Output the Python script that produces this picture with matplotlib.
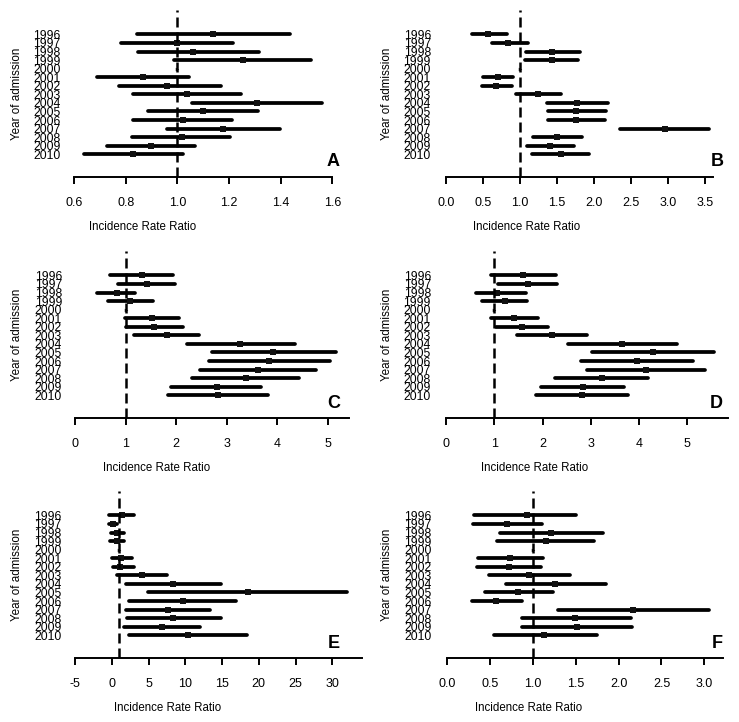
import matplotlib
matplotlib.use("Agg")
import matplotlib.pyplot as plt
import numpy as np

plt.rcParams['font.family'] = ['Liberation Sans', 'DejaVu Sans']

years = ["1996", "1997", "1998", "1999", "2000", "2001", "2002", "2003",
         "2004", "2005", "2006", "2007", "2008", "2009", "2010"]

# Panel A
a_est = [1.14, 1.00, 1.06, 1.255, 1.0, 0.868, 0.96, 1.036, 1.31, 1.10, 1.023, 1.178, 1.017, 0.90, 0.83]
a_lo = [0.843, 0.782, 0.849, 0.987, 1.0, 0.688, 0.775, 0.830, 1.055, 0.885, 0.830, 0.959, 0.823, 0.729, 0.639]
a_hi = [1.436, 1.217, 1.317, 1.516, 1.0, 1.045, 1.168, 1.245, 1.559, 1.314, 1.210, 1.397, 1.204, 1.070, 1.023]
a_ticks = [0.6, 0.8, 1.0, 1.2, 1.4, 1.6]
a_ticklabels = ["0.6", "0.8", "1.0", "1.2", "1.4", "1.6"]

# Panel B
b_est = [0.572, 0.842, 1.43, 1.428, 1.0, 0.70, 0.68, 1.248, 1.774, 1.76, 1.76, 2.96, 1.496, 1.405, 1.56]
b_lo = [0.347, 0.617, 1.081, 1.072, 1.0, 0.505, 0.482, 0.941, 1.369, 1.383, 1.383, 2.351, 1.180, 1.099, 1.162]
b_hi = [0.820, 1.104, 1.811, 1.788, 1.0, 0.910, 0.887, 1.550, 2.185, 2.162, 2.149, 3.559, 1.833, 1.730, 1.932]
b_ticks = [0.0, 0.5, 1.0, 1.5, 2.0, 2.5, 3.0, 3.5]
b_ticklabels = ["0.0", "0.5", "1.0", "1.5", "2.0", "2.5", "3.0", "3.5"]

# Panel C
c_est = [1.314, 1.413, 0.82, 1.083, 1.0, 1.513, 1.559, 1.81, 3.263, 3.92, 3.84, 3.63, 3.38, 2.80, 2.82]
c_lo = [0.687, 0.852, 0.436, 0.640, 1.0, 0.984, 1.000, 1.162, 2.21, 2.70, 2.64, 2.48, 2.31, 1.896, 1.83]
c_hi = [1.929, 1.975, 1.182, 1.532, 1.0, 2.054, 2.127, 2.450, 4.35, 5.16, 5.05, 4.77, 4.44, 3.69, 3.824]
c_ticks = [0, 1, 2, 3, 4, 5]
c_ticklabels = ["0", "1", "2", "3", "4", "5"]

# Panel D
d_est = [1.602, 1.706, 1.05, 1.222, 1.0, 1.409, 1.568, 2.189, 3.653, 4.282, 3.95, 4.144, 3.239, 2.831, 2.81]
d_lo = [0.925, 1.084, 0.622, 0.739, 1.0, 0.925, 1.036, 1.478, 2.521, 3.018, 2.797, 2.914, 2.265, 1.968, 1.858]
d_hi = [2.279, 2.307, 1.650, 1.685, 1.0, 1.913, 2.120, 2.928, 4.779, 5.559, 5.124, 5.366, 4.192, 3.688, 3.764]
d_ticks = [0, 1, 2, 3, 4, 5]
d_ticklabels = ["0", "1", "2", "3", "4", "5"]

# Panel E
e_est = [1.35, 0.2, 0.75, 0.7, 1.0, 1.2, 1.1, 4.07, 8.28, 18.57, 9.64, 7.69, 8.37, 6.79, 10.32]
e_lo = [-0.33, -0.33, -0.15, -0.24, 1.0, -0.01, 0.12, 0.76, 1.94, 4.97, 2.39, 1.94, 2.12, 1.66, 2.39]
e_hi = [3.02, 0.76, 1.66, 1.66, 1.0, 2.80, 3.02, 7.47, 14.8, 31.94, 16.9, 13.36, 14.8, 12.0, 18.35]
e_ticks = [-5, 0, 5, 10, 15, 20, 25, 30]
e_ticklabels = ["-5", "0", "5", "10", "15", "20", "25", "30"]

# Panel F
f_est = [0.931, 0.698, 1.215, 1.156, 1.0, 0.737, 0.726, 0.962, 1.261, 0.834, 0.574, 2.173, 1.494, 1.513, 1.137]
f_lo = [0.322, 0.310, 0.621, 0.582, 1.0, 0.361, 0.357, 0.497, 0.691, 0.446, 0.291, 1.300, 0.873, 0.881, 0.551]
f_hi = [1.506, 1.106, 1.824, 1.719, 1.0, 1.125, 1.094, 1.436, 1.855, 1.242, 0.873, 3.058, 2.146, 2.154, 1.746]
f_ticks = [0.0, 0.5, 1.0, 1.5, 2.0, 2.5, 3.0]
f_ticklabels = ["0.0", "0.5", "1.0", "1.5", "2.0", "2.5", "3.0"]

panel_letters = ["A", "B", "C", "D", "E", "F"]

W, H = 739, 722
fig = plt.figure(figsize=(W / 100, H / 100), dpi=100)

# layout in pixels: (left, right, top, xlim)
layout = [
    (74.0, 332.3, 10, (0.6, 1.6)),
    (446.0, 713.3, 10, (0.0, 3.612)),
    (75.3, 349.3, 251, (0.0, 5.43)),
    (446.0, 728.3, 251, (0.0, 5.85)),
    (75.0, 361.7, 491, (-5.0, 34.0)),
    (446.7, 723.3, 491, (0.0, 3.22)),
]
xlabel_cx = [143, 527, 157, 535, 168, 529]
letter_rx = [340, 724, 340, 723, 340, 723]
ylab_x = [17, 387, 17, 387, 17, 387]

panels = [
    (a_est, a_lo, a_hi, a_ticks, a_ticklabels),
    (b_est, b_lo, b_hi, b_ticks, b_ticklabels),
    (c_est, c_lo, c_hi, c_ticks, c_ticklabels),
    (d_est, d_lo, d_hi, d_ticks, d_ticklabels),
    (e_est, e_lo, e_hi, e_ticks, e_ticklabels),
    (f_est, f_lo, f_hi, f_ticks, f_ticklabels),
]

axh = 167
y_top, y_bot = -2.85, 16.65
for i, ((est, lo, hi, ticks, tlabels), (l, r, t, xl)) in enumerate(zip(panels, layout)):
    ax = fig.add_axes([l / W, 1 - (t + axh) / H, (r - l) / W, axh / H])
    ypos = np.arange(len(years))
    ax.hlines(ypos, lo, hi, color='black', lw=2.7, capstyle='round')
    est = np.array(est)
    lo_a = np.array(lo)
    hi_a = np.array(hi)
    ref = lo_a == hi_a
    ax.plot(est[~ref], ypos[~ref], 's', color='#111111', ms=4.0, mew=0)
    ax.plot(est[ref], ypos[ref], '>', color='black', ms=2.5, mew=0)
    ax.axvline(1.0, color='black', lw=1.8, ls=(0, (4, 2)))
    ax.set_xlim(*xl)
    ax.set_ylim(y_bot, y_top)
    ax.set_yticks(ypos)
    ax.set_yticklabels(years, fontsize=8.8)
    ax.tick_params(axis='y', length=0, pad=9.5 if i % 2 == 0 else 10.8)
    ax.set_xticks(ticks)
    ax.set_xticklabels(tlabels, fontsize=9)
    ax.tick_params(axis='x', direction='out', length=5, width=1.4, pad=9.4)
    for s in ['top', 'right', 'left']:
        ax.spines[s].set_visible(False)
    ax.spines['bottom'].set_linewidth(1.4)
    # labels
    fig.text(xlabel_cx[i] / W, 1 - (t + axh + 50) / H, "Incidence Rate Ratio",
             ha='center', va='center', fontsize=8.3)
    fig.text(ylab_x[i] / W, 1 - (t + 84) / H, "Year of admission", rotation=90,
             ha='center', va='center', fontsize=8.4)
    fig.text(letter_rx[i] / W, 1 - (t + 152) / H, panel_letters[i],
             ha='right', va='center', fontsize=13, fontweight='bold')

fig.savefig("out.png", dpi=100)
